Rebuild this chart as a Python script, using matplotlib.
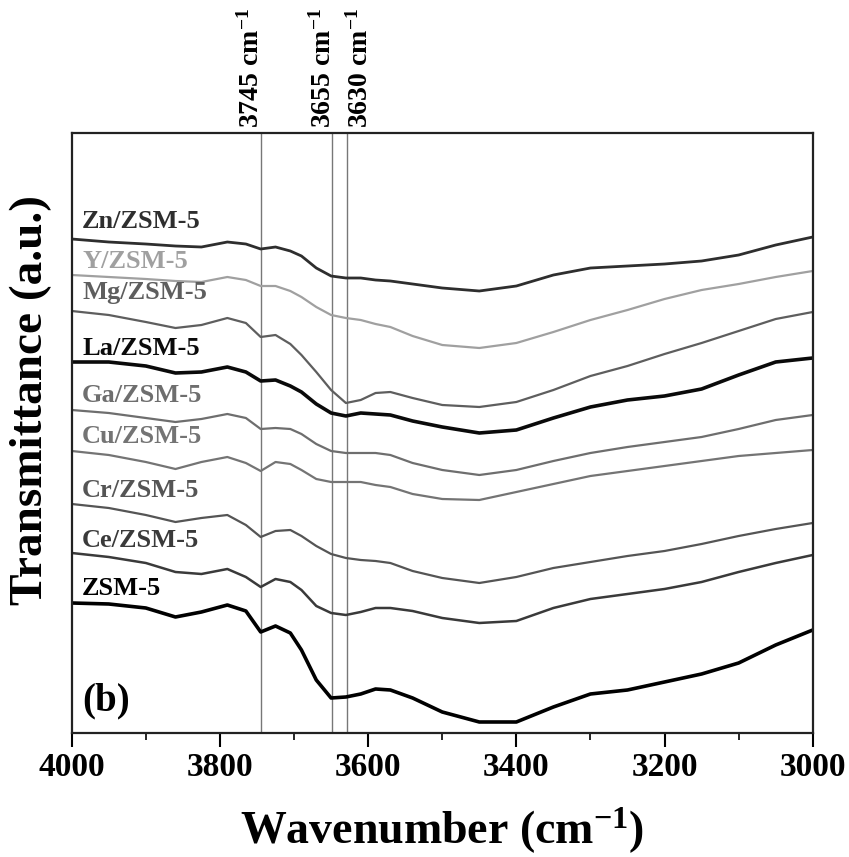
import matplotlib
matplotlib.use("Agg")
import matplotlib.pyplot as plt
from matplotlib.ticker import MultipleLocator
import matplotlib.transforms as mtransforms

plt.rcParams['mathtext.default'] = 'regular'
SERIF = ['Liberation Serif', 'DejaVu Serif']

# ---------------- data ----------------
wavenumber = [4000, 3950, 3900, 3860, 3825, 3790, 3765, 3745, 3725, 3705, 3690, 3670,
              3650, 3630, 3610, 3590, 3570, 3540, 3500, 3450, 3400, 3350, 3300, 3250,
              3200, 3150, 3100, 3050, 3000]

samples = ['Zn/ZSM-5', 'Y/ZSM-5', 'Mg/ZSM-5', 'La/ZSM-5', 'Ga/ZSM-5',
           'Cu/ZSM-5', 'Cr/ZSM-5', 'Ce/ZSM-5', 'ZSM-5']

zn = [76.1, 75.8, 75.6, 75.4, 75.3, 75.8, 75.6, 75.1, 75.3, 74.9, 74.4, 73.2, 72.4, 72.2, 72.2,
      72.0, 71.9, 71.6, 71.2, 70.9, 71.4, 72.5, 73.2, 73.4, 73.6, 73.9, 74.5, 75.5, 76.3]
y_ = [72.5, 72.3, 72.1, 71.9, 71.8, 72.3, 72.0, 71.4, 71.4, 70.9, 70.3, 69.3, 68.5, 68.2, 68.0,
      67.6, 67.3, 66.4, 65.5, 65.2, 65.7, 66.8, 68.0, 69.0, 70.1, 71.0, 71.6, 72.3, 72.9]
mg = [68.9, 68.5, 67.8, 67.2, 67.5, 68.2, 67.7, 66.3, 66.5, 65.6, 64.5, 62.8, 61.0, 59.7, 60.0,
      60.7, 60.8, 60.2, 59.5, 59.3, 59.8, 61.0, 62.4, 63.4, 64.6, 65.7, 66.9, 68.1, 68.8]
la = [63.8, 63.8, 63.4, 62.7, 62.8, 63.3, 62.8, 61.9, 62.0, 61.4, 60.8, 59.6, 58.7, 58.4, 58.7,
      58.6, 58.5, 57.9, 57.3, 56.7, 57.0, 58.2, 59.3, 60.0, 60.4, 61.1, 62.5, 63.8, 64.2]
ga = [59.0, 58.7, 58.2, 57.8, 58.1, 58.6, 58.2, 57.1, 57.2, 57.1, 56.6, 55.6, 54.9, 54.7, 54.7,
      54.7, 54.5, 53.7, 53.0, 52.5, 53.0, 53.9, 54.7, 55.3, 55.8, 56.3, 57.1, 58.0, 58.5]
cu = [54.9, 54.5, 53.8, 53.1, 53.8, 54.3, 53.7, 52.9, 53.8, 53.6, 53.0, 52.1, 51.8, 51.8, 51.8,
      51.5, 51.3, 50.6, 50.1, 50.0, 50.8, 51.6, 52.4, 52.9, 53.4, 53.9, 54.4, 54.7, 55.0]
cr = [49.6, 49.2, 48.5, 47.8, 48.2, 48.5, 47.5, 46.3, 46.9, 47.0, 46.4, 45.4, 44.6, 44.2, 44.0,
      43.9, 43.7, 42.9, 42.2, 41.7, 42.3, 43.2, 43.8, 44.4, 44.9, 45.6, 46.4, 47.1, 47.7]
ce = [44.7, 44.3, 43.7, 42.8, 42.6, 43.1, 42.3, 41.3, 42.1, 41.8, 41.0, 39.4, 38.7, 38.5, 38.8,
      39.2, 39.2, 38.9, 38.2, 37.7, 37.9, 39.2, 40.1, 40.6, 41.1, 41.8, 42.8, 43.7, 44.5]
zsm5 = [39.7, 39.6, 39.2, 38.3, 38.8, 39.5, 38.9, 36.8, 37.4, 36.7, 35.0, 32.0, 30.2, 30.3, 30.6,
        31.1, 31.0, 30.2, 28.8, 27.8, 27.8, 29.3, 30.6, 31.0, 31.8, 32.6, 33.7, 35.5, 37.0]

series = [zn, y_, mg, la, ga, cu, cr, ce, zsm5]
label_baseline = [77.2, 73.2, 70.1, 64.5, 59.8, 55.7, 50.3, 45.3, 40.5]

ref_lines = [3744, 3649, 3628]
ref_label_pos = [3758, 3661, 3611]
ref_labels = ['3745 cm$^{-1}$', '3655 cm$^{-1}$', '3630 cm$^{-1}$']

x_ticks = [4000, 3800, 3600, 3400, 3200, 3000]

# ---------------- style ----------------
colors = ['#2e2e2e', '#a0a0a0', '#5e5e5e', '#0a0a0a', '#6e6e6e',
          '#747474', '#555555', '#3a3a3a', '#000000']
widths = [2.0, 1.6, 1.6, 2.6, 1.6, 1.6, 1.6, 1.8, 2.6]

fig = plt.figure(figsize=(8.49, 8.57), dpi=100)
ax = fig.add_axes([0.0845, 0.1447, 0.8728, 0.7001])

for vals, c, lw in zip(series, colors, widths):
    ax.plot(wavenumber, vals, color=c, lw=lw, solid_joinstyle='round', solid_capstyle='round')

for xv in ref_lines:
    ax.axvline(xv, color='#777777', lw=1.0, zorder=0)

for name, yb, c in zip(samples, label_baseline, colors):
    ax.text(3986, yb, name, color=c, fontsize=19, fontweight='bold', family=SERIF,
            ha='left', va='baseline')

ax.text(3986, 29.0, '(b)', color='black', fontsize=28, fontweight='bold', family=SERIF,
        ha='left', va='baseline')

trans = mtransforms.blended_transform_factory(ax.transData, ax.transAxes)
for xp, lab in zip(ref_label_pos, ref_labels):
    ax.text(xp, 1.008, lab, transform=trans, rotation=90, ha='center', va='bottom',
            fontsize=20, fontweight='bold', family=SERIF, color='black')

ax.set_xlim(4000, 3000)
ax.set_ylim(26.7, 86.7)
ax.set_xticks(x_ticks)
ax.set_xticklabels([str(t) for t in x_ticks])
ax.xaxis.set_minor_locator(MultipleLocator(100))
ax.set_yticks([])
ax.tick_params(axis='x', which='major', direction='out', length=10, width=1.5, pad=4,
               labelsize=24, top=False)
ax.tick_params(axis='x', which='minor', direction='out', length=5, width=1.2, top=False)
for lab in ax.get_xticklabels():
    lab.set_family(SERIF)
    lab.set_fontweight('bold')

for sp in ax.spines.values():
    sp.set_linewidth(1.6)
    sp.set_color('#222222')

ax.set_xlabel('Wavenumber (cm$^{-1}$)', fontsize=33, fontweight='bold', family=SERIF, labelpad=16)
ax.set_ylabel('Transmittance (a.u.)', fontsize=34, fontweight='bold', family=SERIF)
ax.yaxis.set_label_coords(-0.026, 0.555)

fig.savefig('out.png', dpi=100)
